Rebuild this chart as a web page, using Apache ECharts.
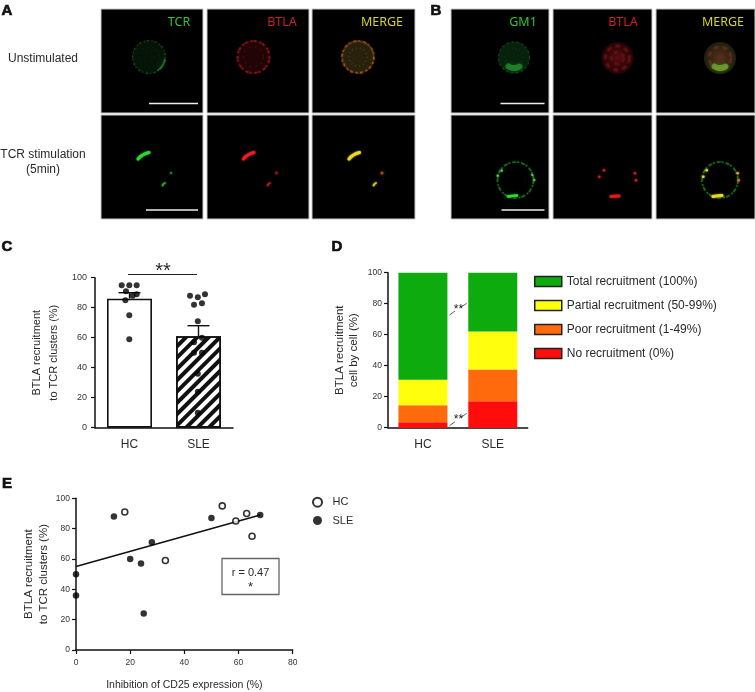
<!DOCTYPE html>
<html><head><meta charset="utf-8">
<style>html,body{margin:0;padding:0;background:#fff}#c{width:755px;height:692px}</style>
<script src="https://cdn.jsdelivr.net/npm/echarts@6/dist/echarts.min.js"></script>
</head><body><div id="c"></div>
<script>
// Panel C
const groupsC = ['HC', 'SLE'];
const meansC = [86, 61];
const errTopC = [90, 68];
const dotsHC = [[0.387,95],[0.497,95],[0.604,95],[0.449,91],[0.604,89],[0.546,88],[0.44,85],[0.497,75],[0.497,59]];
const dotsSLE = [[1.377,88],[1.49,87],[1.594,89],[1.435,82],[1.55,83],[1.49,71],[1.55,60],[1.435,57],[1.435,50],[1.55,50],[1.49,36],[1.49,24],[1.49,10]];
// Panel D
const groupsD = ['HC', 'SLE'];
const noRec = [3.5, 17];
const poorRec = [11, 20.5];
const partialRec = [16.5, 24.5];
const totalRec = [69, 38];
// Panel E
const scatterHC = [[18,91],[33,59],[54,95],[59,85],[63,90],[65,75]];
const scatterSLE = [[0,50],[0,36],[14,88],[20,60],[24,57],[25,24],[28,71],[50,87],[68,89]];
const trend = [[0,55],[68,89]];

const FONT = '"Liberation Sans", Arial, sans-serif';
const TXT = '#2a2a2a';
const G = [];
const text = (x,y,t,o={}) => G.push({type:'text',x,y,silent:true,rotation:o.rot||0,z:o.z||20,style:{text:t,fill:o.fill||TXT,font:(o.font||'12px '+FONT),align:o.align||'center',verticalAlign:'middle',lineHeight:o.lh,stroke:o.stroke,lineWidth:o.lw||0}});
const line = (x1,y1,x2,y2,stroke,w,dash) => G.push({type:'line',silent:true,z:20,shape:{x1,y1,x2,y2},style:{stroke,lineWidth:w,lineDash:dash}});

// micrograph panels
const rowsY = [[9,104],[115,104]];
[[101,102],[207,102],[312,103],[451,98],[553,99],[656,99]].forEach(([x,w])=>rowsY.forEach(([y,h])=>{
  G.push({type:'rect',silent:true,z:5,shape:{x,y,width:w,height:h},style:{fill:'#000',stroke:'#c8c8c8',lineWidth:1}});
}));
const PFONT = '12.5px "Noto Sans", sans-serif';
[[179,'TCR','#2fc52f'],[282,'BTLA','#c8202a'],[382,'MERGE','#d6d21e'],[523,'GM1','#2fc52f'],[623,'BTLA','#c8202a'],[723,'MERGE','#d6d21e']]
  .forEach(([x,t,c])=>text(x,22,t,{fill:c,font:PFONT}));
[[149,198,103.5],[146,198,210],[500.5,544.5,103.5],[501.5,544.5,210]].forEach(([a,b,y])=>line(a,y,b,y,'#eee',1.5));

const ring = (cx,cy,r,c,w,dash,blur) => G.push({type:'circle',silent:true,z:8,shape:{cx,cy,r},style:{fill:'none',stroke:c,lineWidth:w,lineDash:dash,shadowBlur:blur==null?2:blur,shadowColor:c}});
const disc = (cx,cy,r,fill) => G.push({type:'circle',silent:true,z:7,shape:{cx,cy,r},style:{fill}});
const glow = (cx,cy,r,c) => G.push({type:'circle',silent:true,z:9,shape:{cx,cy,r},style:{fill:c,shadowBlur:r*2,shadowColor:c}});
const arc = (cx,cy,r,a,b,c,w) => G.push({type:'arc',silent:true,z:9,shape:{cx,cy,r,startAngle:a,endAngle:b,clockwise:true},style:{stroke:c,lineWidth:w,fill:'none',lineCap:'round',shadowBlur:5,shadowColor:c}});
const streak = (x1,y1,x2,y2,c,w) => G.push({type:'bezierCurve',silent:true,z:9,shape:{x1,y1,x2,y2,cpx1:x1+(x2-x1)*.35,cpy1:y1-(y1-y2)*.75},style:{stroke:c,lineWidth:w,fill:'none',lineCap:'round',shadowBlur:2,shadowColor:c}});
const radial = (c0,c1)=>({type:'radial',x:.5,y:.5,r:.5,colorStops:[{offset:0,color:c0},{offset:1,color:c1}]});

// A, row 1
disc(149,57,17,'rgba(12,40,15,.5)');
ring(149,57,16.5,'rgba(45,130,50,.5)',1.2,[1,2,2,3]); ring(149,57,15,'rgba(45,110,50,.35)',1,[1,4]); ring(149,57,10,'rgba(40,100,45,.35)',1,[1,4]); ring(149,57,5,'rgba(40,100,45,.3)',1,[1,4]);
arc(149,57,16,.15,.95,'rgba(50,150,55,.55)',2);
disc(253.5,57,17,'rgba(55,8,10,.6)');
ring(253.5,57,16,'rgba(170,28,32,.6)',2,[2,1,3,3]); ring(253.5,57,10,'rgba(110,20,25,.4)',1.5,[2,4]);
disc(358,57,17,'rgba(70,55,22,.6)');
ring(358,57,16,'rgba(185,70,35,.6)',2,[3,2,2,3]); ring(358,57,15.5,'rgba(130,150,50,.45)',1,[2,3]); ring(358,57,9,'rgba(90,90,35,.4)',2,[1,3]);
// A, row 2
streak(138,159,149,152.5,'#2fd62f',3);
glow(171,173,1.2,'#1e7d1e'); streak(162.5,185.5,165,183,'#25a525',1.8);
streak(243.5,159,254,152.5,'#ee1c1c',3);
glow(276.5,173,1.4,'#8a1a1a'); streak(267.5,185.5,270,183,'#b01c1c',1.8);
streak(349,159,359.5,152.5,'#ecd81e',3);
glow(382,173,1.5,'#a04a20'); streak(373.5,185.5,376,183,'#d8c81e',1.8);
// B, row 1
disc(514,57.5,16,'rgba(14,55,20,.6)');
ring(514,57.5,15.5,'rgba(45,120,50,.4)',1.2,[2,3]); ring(514,57,9,'rgba(45,110,50,.3)',1.2,[1,3]);
arc(514,57,11,1.05,2.1,'rgba(50,190,60,.5)',6);
disc(617.5,58,16,radial('rgba(110,18,22,.8)','rgba(70,10,14,.5)'));
ring(617.5,58,12,'rgba(140,22,28,.45)',3,[5,4],3); ring(617.5,58,6,'rgba(130,22,28,.4)',3,[4,4],3);
disc(720,58,16,radial('rgba(110,55,30,.85)','rgba(50,60,30,.55)'));
ring(720,58,11,'rgba(140,45,32,.45)',3,[5,4],3);
arc(720,57,11,1.05,2.1,'rgba(130,215,60,.55)',6);
// B, row 2
ring(515.5,180,18,'rgba(35,135,40,.7)',1.6,[4,1,2,2]); ring(515.5,180,10,'rgba(30,80,35,.3)',1,[1,5],0);
[[497.7,175.7],[501.7,170.7],[532.3,175],[534.3,180]].forEach(p=>glow(p[0],p[1],1.1,'#52e05a'));
streak(508,196.5,517,195.5,'#33d83a',2.5);
[[599.3,176.7],[604,170.3],[635,173.3],[636,180.3]].forEach(p=>glow(p[0],p[1],1.3,'#d81c1c'));
streak(611,196.5,619,196,'#e01a1a',3);
ring(720,180,18,'rgba(35,135,40,.7)',1.6,[4,1,2,2]); ring(720,180,10,'rgba(30,80,35,.3)',1,[1,5],0);
[[703.3,176.7,'#e8df30'],[706.7,170.3,'#e8df30'],[737.7,173.3,'#e8a040'],[738.7,180.3,'#e06a40']].forEach(p=>glow(p[0],p[1],1.3,p[2]));
streak(713,196.5,722,195.5,'#e8d62a',3);

// labels
text(43,59,'Unstimulated',{font:'12px '+FONT});
text(43,155,'TCR stimulation',{font:'12px '+FONT});
text(43,170,'(5min)',{font:'12px '+FONT});
const LF = 'bold 15px '+FONT;
[[7,11,'A'],[436,11,'B'],[7,247,'C'],[337,247,'D'],[7,484,'E']].forEach(([x,y,t])=>text(x,y,t,{font:LF,fill:'#111',stroke:'#111',lw:.7}));

// panel C significance
line(128,274.5,197,274.5,'#222',1);
text(163,271,'**',{font:'20px '+FONT});
// panel D significance
[[449.5,315,455,311],[461,307,466.7,303.3],[449.5,425.7,455,421.7],[461,417.5,466.7,413.3]].forEach(s=>line(s[0],s[1],s[2],s[3],'#333',.8));
text(458,310,'**',{font:'italic 12px '+FONT,fill:'#222'});
text(458,420,'**',{font:'italic 12px '+FONT,fill:'#222'});
// panel E box
G.push({type:'rect',silent:true,z:20,shape:{x:222,y:558.5,width:57,height:36},style:{fill:'#fff',stroke:'#666',lineWidth:1.3}});
text(250.5,572.5,'r = 0.47',{font:'11px '+FONT,z:21});
text(250.5,587,'*',{font:'13px '+FONT,z:21});

const valAxis = (gi,name,gap,fs,lh,lf,lm) => ({gridIndex:gi,type:'value',min:0,max:100,interval:20,name,nameLocation:'middle',nameGap:gap,
  nameTextStyle:{fontFamily:FONT,fontSize:fs,color:TXT,lineHeight:lh},
  axisLine:{show:true,lineStyle:{color:'#111',width:1.5}},axisTick:{show:true,length:4,lineStyle:{color:'#111',width:1.2}},
  axisLabel:{fontFamily:FONT,fontSize:lf,color:'#333',margin:lm},splitLine:{show:false}});
const catAxis = (gi,data) => ({gridIndex:gi,type:'category',data,axisLine:{onZero:false,lineStyle:{color:'#111',width:1.5}},axisTick:{show:false},
  axisLabel:{fontFamily:FONT,fontSize:12,color:TXT,margin:11}});
const stackSeries = (name,data,color)=>({name,type:'bar',stack:'d',xAxisIndex:2,yAxisIndex:1,data,barWidth:49,itemStyle:{color}});

const option = {
  backgroundColor:'#fff',animation:false,
  grid:[
    {left:95,top:277.7,width:138,height:150},
    {left:388,top:272.7,width:139.7,height:155},
    {left:76,top:498.3,width:216.7,height:153.4}
  ],
  xAxis:[
    catAxis(0,groupsC),
    {gridIndex:0,type:'value',min:0,max:2,show:false},
    catAxis(1,groupsD),
    {gridIndex:2,type:'value',min:0,max:80,interval:20,name:'Inhibition of CD25 expression (%)',nameLocation:'middle',nameGap:30,
     nameTextStyle:{fontFamily:FONT,fontSize:10.5,color:TXT},
     axisLine:{onZero:false,lineStyle:{color:'#111',width:1.5}},axisTick:{length:4,lineStyle:{color:'#111',width:1.2}},
     axisLabel:{fontFamily:FONT,fontSize:8.5,color:'#333',margin:8},splitLine:{show:false}}
  ],
  yAxis:[
    valAxis(0,'BTLA recruitment\nto TCR clusters (%)',33,11,17,9,8),
    valAxis(1,'BTLA recruitment\ncell by cell (%)',26.5,11.5,14.5,8.5,6),
    valAxis(2,'BTLA recruitment\nto TCR clusters (%)',25,11.5,14.5,8.5,6)
  ],
  legend:[
    {data:['Total recruitment (100%)','Partial recruitment (50-99%)','Poor recruitment (1-49%)','No recruitment (0%)'],
     orient:'vertical',left:529,top:270.5,itemWidth:27,itemHeight:10,itemGap:12,selectedMode:false,icon:'rect',
     itemStyle:{borderColor:'#222',borderWidth:1.5},
     textStyle:{fontFamily:FONT,fontSize:12,color:TXT,padding:[0,0,0,0]}},
    {data:['HC','SLE'],orient:'vertical',left:307,top:491.7,itemWidth:10,itemHeight:9,itemGap:7.3,selectedMode:false,
     textStyle:{fontFamily:FONT,fontSize:11,color:TXT,padding:[0,0,0,5]}}
  ],
  series:[
    {name:'C bars',type:'bar',xAxisIndex:0,yAxisIndex:0,barWidth:45,
     data:[{value:meansC[0],itemStyle:{color:'#fff',borderColor:'#111',borderWidth:1.6}},
           {value:meansC[1],itemStyle:{color:'#fff',borderColor:'#111',borderWidth:1.6,
             decal:{symbol:'rect',rotation:-Math.PI/4,dashArrayX:[1,0],dashArrayY:[3.5,4],color:'#111',symbolSize:1}}}]},
    {name:'C error',type:'custom',xAxisIndex:1,yAxisIndex:0,z:4,
     data:[[0.5,meansC[0],errTopC[0]],[1.5,meansC[1],errTopC[1]]],
     renderItem(p,api){
       const a=api.coord([api.value(0),api.value(1)]),b=api.coord([api.value(0),api.value(2)]);
       const st={stroke:'#111',lineWidth:1.4};
       return {type:'group',children:[
         {type:'line',shape:{x1:a[0],y1:a[1],x2:b[0],y2:b[1]},style:st},
         {type:'line',shape:{x1:b[0]-11,y1:b[1],x2:b[0]+11,y2:b[1]},style:st}]};
     }},
    {name:'C HC dots',type:'scatter',xAxisIndex:1,yAxisIndex:0,data:dotsHC,symbolSize:6,itemStyle:{color:'#000'},z:5},
    {name:'C SLE dots',type:'scatter',xAxisIndex:1,yAxisIndex:0,data:dotsSLE,symbolSize:6,itemStyle:{color:'#000'},z:5},
    stackSeries('No recruitment (0%)',noRec,'#ff0d0d'),
    stackSeries('Poor recruitment (1-49%)',poorRec,'#ff6a0d'),
    stackSeries('Partial recruitment (50-99%)',partialRec,'#ffff0d'),
    stackSeries('Total recruitment (100%)',totalRec,'#0dab0d'),
    {name:'trend',type:'line',xAxisIndex:3,yAxisIndex:2,data:trend,symbol:'none',lineStyle:{color:'#111',width:1.5},z:2},
    {name:'HC',type:'scatter',xAxisIndex:3,yAxisIndex:2,data:scatterHC,symbolSize:6,clip:false,itemStyle:{color:'#fff',borderColor:'#000',borderWidth:1.6},z:3},
    {name:'SLE',type:'scatter',xAxisIndex:3,yAxisIndex:2,data:scatterSLE,symbolSize:6.5,clip:false,itemStyle:{color:'#000'},z:3}
  ],
  graphic:{elements:G}
};
echarts.init(document.getElementById('c')).setOption(option);
</script></body></html>
